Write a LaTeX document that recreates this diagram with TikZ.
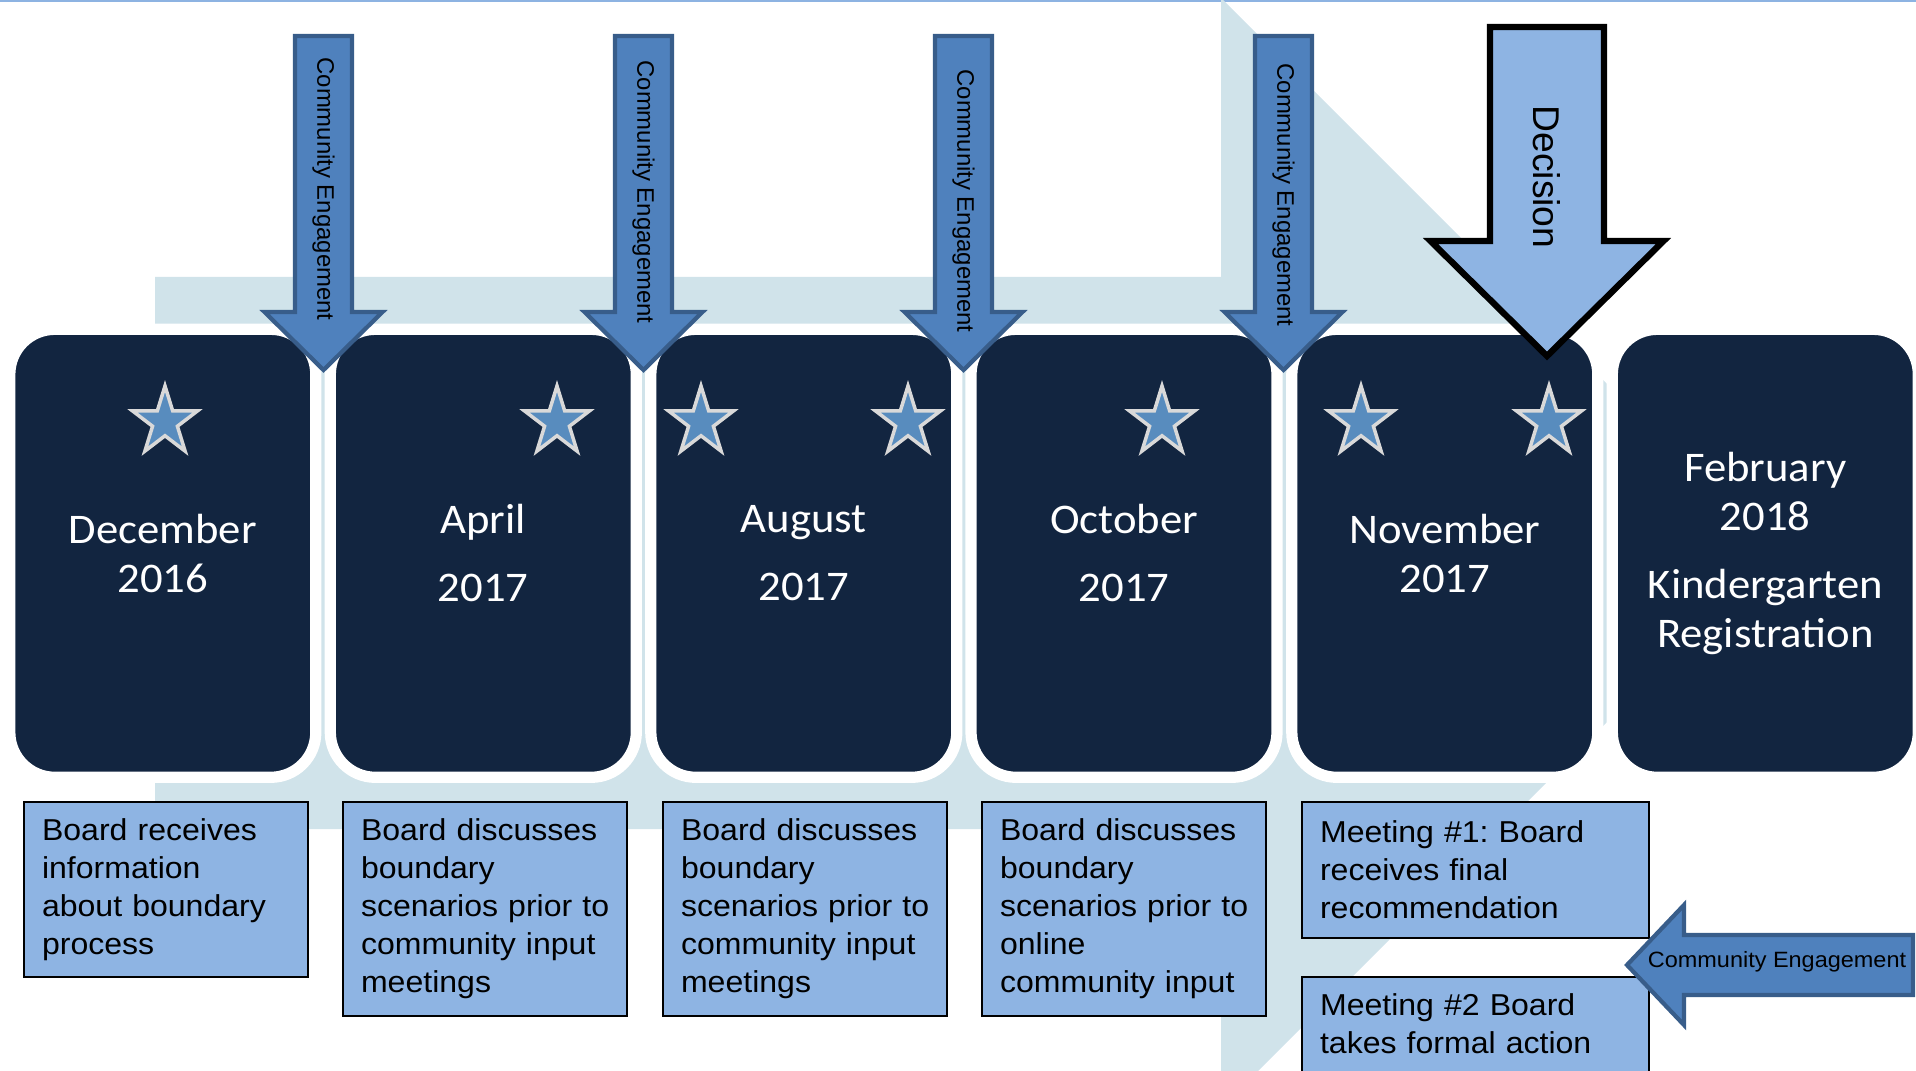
\documentclass[tikz,border=0pt]{standalone}
\usepackage{fontspec}
\setmainfont[FakeStretch=1.06]{Liberation Sans}
\newfontfamily\calfont[FakeStretch=1.06]{Carlito}
\newfontfamily\rotfont{Liberation Sans}
\usetikzlibrary{shapes.geometric}

\definecolor{bgblue}{RGB}{208,227,234}
\definecolor{navy}{RGB}{18,37,64}
\definecolor{descblue}{RGB}{142,180,227}
\definecolor{ceblue}{RGB}{79,129,189}
\definecolor{ceedge}{RGB}{56,93,138}
\definecolor{starblue}{RGB}{88,140,190}
\definecolor{stargray}{RGB}{217,217,217}
\definecolor{topline}{RGB}{141,179,226}

\begin{document}
\frenchspacing
\begin{tikzpicture}[y=-1cm,
monthbox/.style={rectangle, rounded corners=0.45cm, fill=navy, draw=white, line width=3.2pt, minimum width=3.06cm, minimum height=4.48cm, text=white, align=center, font=\calfont\fontsize{12}{13.9}\selectfont},
starnode/.style={star, star points=5, star point ratio=2.618, minimum size=0.72cm, xscale=0.95, inner sep=0pt, fill=starblue, draw=stargray, line width=1pt},
notebox/.style={rectangle, anchor=north west, draw=black, line width=0.6pt, fill=descblue, inner xsep=0.18cm, inner ysep=4.6pt, text width=2.48cm, align=left, font=\fontsize{8.6}{10.8}\selectfont},
cearrow/.style={fill=ceblue, draw=ceedge, line width=1.2pt},
decarrow/.style={fill=descblue, draw=black, line width=1.8pt},
celabel/.style={rotate=-90, inner sep=0pt, font=\rotfont\fontsize{6.8}{8}\selectfont},
declabel/.style={rotate=-90, inner sep=0pt, font=\rotfont\fontsize{10.6}{12}\selectfont}
]
    \useasboundingbox (0,0) rectangle (19.16,10.71);
    \clip (0,0) rectangle (19.16,10.71);
    \draw[topline, line width=1pt] (0,0) -- (19.16,0);

    % big timeline arrow behind everything
    \fill[bgblue] (1.55,2.77) -- (12.21,2.77) -- (12.21,-0.02) -- (17.76,5.53) -- (12.21,11.08) -- (12.21,8.29) -- (1.55,8.29) -- cycle;

    \node[monthbox] (dec16) at ( 1.628,5.533) {December\\2016};
    \node[monthbox] (apr17) at ( 4.833,5.533) {April\\[5.4pt]2017};
    \node[monthbox] (aug17) at ( 8.038,5.533) {August\\[5.4pt]2017};
    \node[monthbox] (oct17) at (11.240,5.533) {October\\[5.4pt]2017};
    \node[monthbox] (nov17) at (14.448,5.533) {November\\2017};
    \node[monthbox] (feb18) at (17.653,5.533) {February\\2018\\[5.4pt]Kindergarten\\Registration};

    \node[starnode] (star1) at ( 1.65,4.22) {};
    \node[starnode] (star2) at ( 5.57,4.22) {};
    \node[starnode] (star3) at ( 7.01,4.22) {};
    \node[starnode] (star4) at ( 9.08,4.22) {};
    \node[starnode] (star5) at (11.62,4.22) {};
    \node[starnode] (star6) at (13.61,4.22) {};
    \node[starnode] (star7) at (15.49,4.22) {};

    \node[notebox, minimum height=1.75cm] (note1) at ( 0.23,8.01) {Board receives\\information\\about boundary\\process};
    \node[notebox, minimum height=2.14cm] (note2) at ( 3.42,8.01) {Board discusses\\boundary\\\mbox{scenarios prior to}\\community input\\meetings};
    \node[notebox, minimum height=2.14cm] (note3) at ( 6.62,8.01) {Board discusses\\boundary\\\mbox{scenarios prior to}\\community input\\meetings};
    \node[notebox, minimum height=2.14cm] (note4) at ( 9.81,8.01) {Board discusses\\boundary\\\mbox{scenarios prior to}\\online\\community input};
    \node[notebox, text width=3.11cm, minimum height=1.36cm] (note5) at (13.01,8.01) {Meeting \#1: Board\\receives final\\recommendation};
    \node[notebox, text width=3.11cm, text depth=1cm] (note6) at (13.01,9.76) {Meeting \#2 Board\\takes formal action};

    % community engagement arrows
    \draw[cearrow] ( 2.95,0.36) -- ++(0.57,0) -- ++(0,2.76) -- ++(0.305,0) -- ++(-0.59,0.58) -- ++(-0.59,-0.58) -- ++(0.305,0) -- cycle;
    \draw[cearrow] ( 6.15,0.36) -- ++(0.57,0) -- ++(0,2.76) -- ++(0.305,0) -- ++(-0.59,0.58) -- ++(-0.59,-0.58) -- ++(0.305,0) -- cycle;
    \draw[cearrow] ( 9.35,0.36) -- ++(0.57,0) -- ++(0,2.76) -- ++(0.305,0) -- ++(-0.59,0.58) -- ++(-0.59,-0.58) -- ++(0.305,0) -- cycle;
    \draw[cearrow] (12.55,0.36) -- ++(0.57,0) -- ++(0,2.76) -- ++(0.305,0) -- ++(-0.59,0.58) -- ++(-0.59,-0.58) -- ++(0.305,0) -- cycle;
    \node[celabel] (celab1) at ( 3.235,1.89) {Community Engagement};
    \node[celabel] (celab2) at ( 6.435,1.92) {Community Engagement};
    \node[celabel] (celab3) at ( 9.635,2.01) {Community Engagement};
    \node[celabel] (celab4) at (12.835,1.95) {Community Engagement};

    % decision
    \draw[decarrow] (14.90,0.27) -- ++(1.14,0) -- ++(0,2.14) -- ++(0.595,0) -- ++(-1.165,1.15) -- ++(-1.165,-1.15) -- ++(0.595,0) -- cycle;
    \node[declabel] (declab) at (15.47,1.77) {Decision};

    \draw[cearrow] (19.13,9.35) -- (16.84,9.35) -- (16.84,9.05) -- (16.27,9.65) -- (16.84,10.25) -- (16.84,9.95) -- (19.13,9.95) -- cycle;
    \node[inner sep=0pt, font=\fontsize{6.3}{8}\selectfont] (celab5) at (17.77,9.62) {Community Engagement};
\end{tikzpicture}
\end{document}
